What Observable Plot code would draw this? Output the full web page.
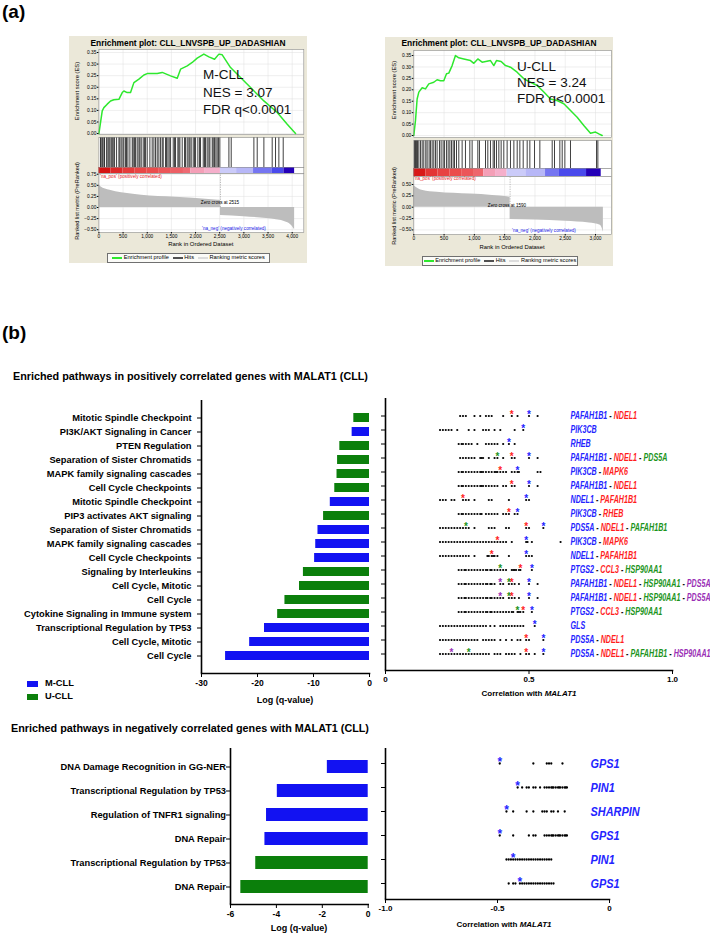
<!DOCTYPE html>
<html>
<head>
<meta charset="utf-8">
<script src="https://cdn.jsdelivr.net/npm/d3@7"></script>
<script src="https://cdn.jsdelivr.net/npm/@observablehq/plot@0.6"></script>
<style>
html,body{margin:0;padding:0;background:#fff;}
#fig{position:relative;width:710px;height:935px;overflow:hidden;background:#fff;font-family:"Liberation Sans",Arial,Helvetica,sans-serif;color:#000;}
.abs{position:absolute;}
.t{position:absolute;white-space:nowrap;line-height:1;}
.box{position:absolute;background:#ebe8d9;}
.lg{position:absolute;border:0.8px solid #707070;background:#fbfbf8;font-size:5.6px;line-height:1;display:flex;align-items:center;justify-content:center;box-sizing:border-box;white-space:nowrap;}
.sw{display:inline-block;width:10px;height:1.6px;margin:0 1.5px 0 4px;vertical-align:middle;}
</style>
</head>
<body>
<div id="fig"></div>
<script>
// ---------------- Panel (a): GSEA, M-CLL ----------------
const mTitle = "Enrichment plot: CLL_LNVSPB_UP_DADASHIAN";
const mStats = ["M-CLL", "NES = 3.07", "FDR q<0.0001"];
const mEsRank = [0, 69, 103, 172, 241, 310, 414, 483, 517, 586, 655, 724, 828, 931, 1000, 1207, 1310, 1483, 1621, 1690, 1828, 1931, 2034, 2172, 2276, 2393, 2483, 2552, 2724, 2931, 3138, 3414, 3690, 3897, 4069];
const mEsScore = [0, 0.098, 0.112, 0.127, 0.141, 0.146, 0.148, 0.177, 0.184, 0.177, 0.177, 0.22, 0.235, 0.253, 0.259, 0.259, 0.264, 0.249, 0.239, 0.278, 0.292, 0.307, 0.326, 0.343, 0.331, 0.321, 0.343, 0.34, 0.285, 0.242, 0.199, 0.141, 0.091, 0.04, 0.0];
const mHits = [34, 48, 76, 103, 117, 159, 186, 207, 228, 255, 276, 297, 324, 366, 414, 434, 462, 497, 517, 552, 572, 600, 641, 690, 710, 738, 759, 793, 828, 848, 876, 917, 945, 966, 1000, 1055, 1103, 1138, 1172, 1207, 1241, 1276, 1310, 1331, 1379, 1400, 1428, 1455, 1483, 1538, 1566, 1586, 1634, 1655, 1676, 1724, 1772, 1793, 1828, 1862, 1883, 1910, 1952, 1979, 2000, 2048, 2083, 2103, 2159, 2186, 2207, 2241, 2276, 2297, 2345, 2366, 2393, 2421, 2448, 2476, 2503, 2690, 2738, 3207, 3276, 3414, 3586, 3655, 3724, 3814];
const mBarEdges = [0, 250, 500, 750, 1000, 1250, 1500, 1750, 1900, 2200, 2515, 2850, 3200, 3590, 3830, 4050];
const mBarLevels = [0.5, 0.42, 0.36, 0.32, 0.3, 0.28, 0.26, 0.24, 0.14, 0.11, -0.09, -0.12, -0.22, -0.3, -0.45];
const mMetPosRank = [0, 40, 230, 710, 1400, 1950, 2470, 2515];
const mMetPosVal = [0.52, 0.47, 0.39, 0.30, 0.24, 0.21, 0.165, 0.16];
const mMetNegRank = [2515, 3000, 3470, 3880, 4000, 4050];
const mMetNegVal = [-0.18, -0.21, -0.25, -0.33, -0.42, -0.5];
const mZeroCross = 2515;
const mXTicks = [0, 500, 1000, 1500, 2000, 2500, 3000, 3500, 4000];
const mMetricTicks = [-0.5, -0.25, 0, 0.25, 0.5, 0.75];

// ---------------- Panel (a): GSEA, U-CLL ----------------
const uTitle = "Enrichment plot: CLL_LNVSPB_UP_DADASHIAN";
const uStats = ["U-CLL", "NES = 3.24", "FDR q<0.0001"];
const uEsRank = [0, 28, 55, 83, 138, 193, 248, 330, 385, 440, 495, 540, 578, 633, 688, 743, 826, 936, 991, 1057, 1128, 1266, 1321, 1365, 1442, 1514, 1596, 1706, 1817, 1927, 2037, 2147, 2257, 2367, 2477, 2587, 2697, 2807, 2917, 3000, 3055, 3110];
const uEsScore = [0, 0.066, 0.16, 0.19, 0.209, 0.204, 0.226, 0.233, 0.244, 0.24, 0.24, 0.27, 0.273, 0.306, 0.35, 0.34, 0.335, 0.328, 0.316, 0.335, 0.321, 0.328, 0.306, 0.328, 0.324, 0.306, 0.299, 0.277, 0.248, 0.233, 0.219, 0.19, 0.16, 0.153, 0.139, 0.109, 0.08, 0.044, 0.01, 0.015, 0.007, 0];
const uHits = [11, 28, 44, 61, 83, 110, 138, 165, 198, 220, 253, 275, 303, 330, 358, 385, 424, 451, 484, 506, 539, 567, 595, 622, 650, 672, 705, 743, 798, 853, 925, 963, 1057, 1084, 1184, 1222, 1266, 1310, 1332, 1365, 1404, 1442, 1486, 1541, 1596, 1652, 1707, 1751, 1806, 1872, 1916, 1993, 2081, 2285, 2323, 2411, 2450, 2494, 2587, 3017, 3039];
const uBarEdges = [0, 200, 400, 600, 800, 1000, 1156, 1350, 1541, 1850, 2175, 2395, 2852, 3094];
const uBarLevels = [0.48, 0.38, 0.33, 0.3, 0.28, 0.25, 0.14, 0.11, -0.09, -0.12, -0.22, -0.3, -0.45];
const uMetPosRank = [0, 60, 150, 385, 936, 1300, 1541, 1590];
const uMetPosVal = [0.48, 0.42, 0.37, 0.33, 0.29, 0.26, 0.23, 0.22];
const uMetNegRank = [1590, 2000, 2500, 2900, 3080, 3130];
const uMetNegVal = [-0.27, -0.28, -0.31, -0.35, -0.40, -0.55];
const uZeroCross = 1590;
const uXTicks = [0, 500, 1000, 1500, 2000, 2500, 3000];
const uMetricTicks = [-0.5, -0.25, 0, 0.25, 0.5];

const esTicks = [0, 0.05, 0.10, 0.15, 0.20, 0.25, 0.30, 0.35];
const gseaLegend = ["Enrichment profile", "Hits", "Ranking metric scores"];

// ---------------- Panel (b): positively correlated ----------------
const groupNames = ["M-CLL", "U-CLL"];
const posTitle = "Enriched pathways in positively correlated genes with MALAT1 (CLL)";
const posPathways = ["Mitotic Spindle Checkpoint", "PI3K/AKT Signaling in Cancer", "PTEN Regulation", "Separation of Sister Chromatids", "MAPK family signaling cascades", "Cell Cycle Checkpoints", "Mitotic Spindle Checkpoint", "PIP3 activates AKT signaling", "Separation of Sister Chromatids", "MAPK family signaling cascades", "Cell Cycle Checkpoints", "Signaling by Interleukins", "Cell Cycle, Mitotic", "Cell Cycle", "Cytokine Signaling in Immune system", "Transcriptional Regulation by TP53", "Cell Cycle, Mitotic", "Cell Cycle"];
const posGroups = ["U-CLL", "M-CLL", "U-CLL", "U-CLL", "U-CLL", "U-CLL", "M-CLL", "U-CLL", "M-CLL", "M-CLL", "M-CLL", "U-CLL", "U-CLL", "U-CLL", "U-CLL", "M-CLL", "M-CLL", "M-CLL"];
const posLogQ = [-2.8, -3.1, -5.3, -5.7, -5.8, -6.2, -7.0, -8.2, -9.2, -9.6, -9.8, -11.8, -12.5, -15.1, -16.4, -18.75, -21.4, -25.7];
const posGenes = [
  ["PAFAH1B1", "NDEL1"], ["PIK3CB"], ["RHEB"], ["PAFAH1B1", "NDEL1", "PDS5A"], ["PIK3CB", "MAPK6"],
  ["PAFAH1B1", "NDEL1"], ["NDEL1", "PAFAH1B1"], ["PIK3CB", "RHEB"], ["PDS5A", "NDEL1", "PAFAH1B1"],
  ["PIK3CB", "MAPK6"], ["NDEL1", "PAFAH1B1"], ["PTGS2", "CCL3", "HSP90AA1"],
  ["PAFAH1B1", "NDEL1", "HSP90AA1", "PDS5A"], ["PAFAH1B1", "NDEL1", "HSP90AA1", "PDS5A"],
  ["PTGS2", "CCL3", "HSP90AA1"], ["GLS"], ["PDS5A", "NDEL1"], ["PDS5A", "NDEL1", "PAFAH1B1", "HSP90AA1"]];
// starred genes: [correlation, index of gene in the row's gene list]
const posStars = [
  [[0.44, 1], [0.50, 0]], [[0.48, 0]], [[0.43, 0]], [[0.39, 2], [0.44, 1], [0.50, 0]], [[0.40, 1], [0.46, 0]],
  [[0.44, 1], [0.50, 0]], [[0.27, 1], [0.49, 0]], [[0.43, 1], [0.46, 0]], [[0.28, 2], [0.49, 1], [0.55, 0]],
  [[0.39, 1], [0.49, 0]], [[0.37, 1], [0.49, 0]], [[0.40, 2], [0.47, 1], [0.51, 0]],
  [[0.40, 3], [0.43, 2], [0.44, 1], [0.50, 0]], [[0.40, 3], [0.43, 2], [0.44, 1], [0.50, 0]],
  [[0.46, 2], [0.48, 1], [0.51, 0]], [[0.52, 0]], [[0.49, 1], [0.55, 0]], [[0.23, 3], [0.29, 2], [0.49, 1], [0.55, 0]]];
const posDots = [
  [0.26, 0.27, 0.28, 0.31, 0.33, 0.35, 0.36, 0.37, 0.41, 0.44, 0.46, 0.50, 0.53],
  [0.19, 0.20, 0.21, 0.22, 0.23, 0.25, 0.29, 0.31, 0.34, 0.35, 0.36, 0.38, 0.40, 0.45, 0.48],
  [0.255, 0.265, 0.27, 0.28, 0.29, 0.30, 0.32, 0.35, 0.36, 0.37, 0.38, 0.39, 0.41, 0.43, 0.45],
  [0.26, 0.27, 0.28, 0.29, 0.30, 0.31, 0.33, 0.335, 0.34, 0.36, 0.38, 0.39, 0.41, 0.44, 0.45, 0.50, 0.53],
  [0.255, 0.265, 0.27, 0.28, 0.29, 0.30, 0.31, 0.32, 0.33, 0.335, 0.34, 0.35, 0.36, 0.37, 0.38, 0.385, 0.39, 0.40, 0.41, 0.42, 0.44, 0.45, 0.46, 0.465, 0.53, 0.54],
  [0.255, 0.265, 0.27, 0.28, 0.29, 0.30, 0.31, 0.32, 0.33, 0.335, 0.34, 0.35, 0.36, 0.37, 0.38, 0.39, 0.41, 0.42, 0.44, 0.45, 0.50, 0.53],
  [0.19, 0.20, 0.21, 0.23, 0.24, 0.27, 0.28, 0.29, 0.31, 0.36, 0.37, 0.43, 0.49, 0.50],
  [0.255, 0.265, 0.27, 0.28, 0.29, 0.30, 0.31, 0.32, 0.33, 0.335, 0.35, 0.36, 0.37, 0.38, 0.39, 0.41, 0.42, 0.43, 0.45, 0.46],
  [0.19, 0.20, 0.21, 0.22, 0.23, 0.24, 0.25, 0.26, 0.27, 0.28, 0.29, 0.31, 0.36, 0.37, 0.38, 0.42, 0.43, 0.49, 0.50, 0.55],
  [0.19, 0.20, 0.21, 0.22, 0.23, 0.24, 0.25, 0.26, 0.27, 0.28, 0.29, 0.30, 0.31, 0.32, 0.33, 0.34, 0.35, 0.36, 0.37, 0.38, 0.39, 0.40, 0.41, 0.42, 0.44, 0.49, 0.495, 0.51, 0.61],
  [0.19, 0.20, 0.21, 0.22, 0.23, 0.24, 0.25, 0.26, 0.27, 0.28, 0.29, 0.31, 0.355, 0.36, 0.37, 0.375, 0.38, 0.39, 0.43, 0.49, 0.50, 0.51],
  [0.255, 0.265, 0.275, 0.28, 0.29, 0.30, 0.31, 0.32, 0.33, 0.34, 0.35, 0.355, 0.365, 0.37, 0.38, 0.39, 0.40, 0.41, 0.42, 0.44, 0.445, 0.45, 0.455, 0.465, 0.47, 0.51],
  [0.255, 0.265, 0.275, 0.28, 0.29, 0.30, 0.31, 0.32, 0.33, 0.34, 0.35, 0.355, 0.365, 0.37, 0.38, 0.40, 0.41, 0.43, 0.44, 0.45, 0.465, 0.50, 0.53],
  [0.255, 0.265, 0.275, 0.28, 0.29, 0.30, 0.31, 0.32, 0.33, 0.34, 0.35, 0.355, 0.365, 0.37, 0.38, 0.39, 0.40, 0.41, 0.43, 0.44, 0.45, 0.465, 0.50, 0.53],
  [0.255, 0.265, 0.275, 0.28, 0.29, 0.30, 0.31, 0.32, 0.33, 0.34, 0.35, 0.355, 0.365, 0.37, 0.38, 0.39, 0.40, 0.41, 0.42, 0.43, 0.44, 0.445, 0.46, 0.465, 0.47, 0.48, 0.51],
  [0.19, 0.20, 0.21, 0.22, 0.23, 0.24, 0.25, 0.26, 0.27, 0.28, 0.29, 0.30, 0.31, 0.32, 0.33, 0.34, 0.35, 0.365, 0.38, 0.40, 0.41, 0.42, 0.43, 0.44, 0.45, 0.46, 0.47, 0.48, 0.52],
  [0.19, 0.20, 0.21, 0.22, 0.23, 0.24, 0.25, 0.26, 0.27, 0.28, 0.29, 0.30, 0.31, 0.32, 0.34, 0.35, 0.36, 0.37, 0.38, 0.40, 0.42, 0.44, 0.46, 0.47, 0.49, 0.50, 0.55],
  [0.19, 0.20, 0.21, 0.22, 0.23, 0.24, 0.25, 0.26, 0.27, 0.28, 0.29, 0.30, 0.31, 0.32, 0.33, 0.34, 0.35, 0.36, 0.38, 0.39, 0.40, 0.42, 0.43, 0.44, 0.45, 0.47, 0.49, 0.50, 0.52, 0.55]];
const posLogQTicks = [-30, -20, -10, 0];
const posCorrTicks = [0, 0.5, 1.0];

// ---------------- Panel (b): negatively correlated ----------------
const negTitle = "Enriched pathways in negatively correlated genes with MALAT1 (CLL)";
const negPathways = ["DNA Damage Recognition in GG-NER", "Transcriptional Regulation by TP53", "Regulation of TNFR1 signaling", "DNA Repair", "Transcriptional Regulation by TP53", "DNA Repair"];
const negGroups = ["M-CLL", "M-CLL", "M-CLL", "M-CLL", "U-CLL", "U-CLL"];
const negLogQ = [-1.78, -3.96, -4.43, -4.5, -4.9, -5.55];
const negGenes = ["GPS1", "PIN1", "SHARPIN", "GPS1", "PIN1", "GPS1"];
const negStars = [-0.49, -0.41, -0.46, -0.49, -0.43, -0.40];
const negDots = [
  [-0.49, -0.34, -0.28, -0.27, -0.26, -0.21],
  [-0.41, -0.39, -0.37, -0.36, -0.34, -0.33, -0.31, -0.29, -0.28, -0.27, -0.26, -0.255, -0.25, -0.24, -0.23, -0.225, -0.22, -0.21, -0.20, -0.195, -0.19],
  [-0.46, -0.43, -0.37, -0.34, -0.30, -0.29, -0.28, -0.26, -0.25, -0.23, -0.20],
  [-0.49, -0.43, -0.36, -0.34, -0.33, -0.29, -0.28, -0.27, -0.26, -0.255, -0.25, -0.24, -0.23, -0.225, -0.22, -0.21, -0.20, -0.195, -0.19],
  [-0.46, -0.45, -0.44, -0.43, -0.42, -0.41, -0.40, -0.39, -0.38, -0.37, -0.36, -0.35, -0.34, -0.33, -0.32, -0.31, -0.30, -0.29, -0.28, -0.27, -0.26],
  [-0.45, -0.43, -0.42, -0.40, -0.39, -0.38, -0.37, -0.36, -0.35, -0.34, -0.33, -0.32, -0.31, -0.30, -0.29, -0.28, -0.27, -0.26, -0.25]];
const negLogQTicks = [-6, -4, -2, 0];
const negCorrTicks = [-1.0, -0.5, 0];

// ---------------- styling ----------------
const BLUE = "#1212f2", GREEN = "#0b7f0b";
const GENE_COLORS = ["#2424ff", "#ff1e1e", "#1c941c", "#9a2fb5"];
const ES_GREEN = "#2ee82e";
const SANS = "'Liberation Sans', Arial, Helvetica, sans-serif";
const baseStyle = {overflow: "visible", background: "transparent", color: "#000", fontFamily: SANS};
const barColor = {type: "linear", domain: [-0.45, -0.3, -0.2, -0.08, 0.1, 0.2, 0.3, 0.5],
  range: ["#2400b8", "#4a4aec", "#8080f2", "#d2d2fa", "#f6b4d2", "#f07f8e", "#eb4c4c", "#d61212"]};

const fig = document.getElementById("fig");
function place(node, left, top) {
  const w = document.createElement("div");
  w.className = "abs";
  w.style.left = left + "px"; w.style.top = top + "px";
  w.appendChild(node); fig.appendChild(w); return w;
}
function put(html, x, y, css = {}, anchor = "start", rotate = null) {
  const d = document.createElement("div");
  d.className = "t";
  d.innerHTML = html;
  Object.assign(d.style, css);
  d.style.left = x + "px"; d.style.top = y + "px";
  const tx = anchor === "middle" ? "-50%" : anchor === "end" ? "-100%" : "0";
  d.style.transform = `translate(${tx}, -50%)` + (rotate ? ` rotate(${rotate})` : "");
  fig.appendChild(d); return d;
}

// ---------------- GSEA builder ----------------
function gsea(c) {
  const W = c.box.w, ml = c.plotL - c.box.l, mr = c.box.l + c.box.w - c.plotR;
  const bx = document.createElement("div");
  bx.className = "box";
  Object.assign(bx.style, {left: c.box.l + "px", top: c.box.t + "px", width: W + "px", height: c.box.h + "px"});
  fig.appendChild(bx);
  put(c.title, c.box.l + W / 2, c.titleY, {fontSize: "8.4px", fontWeight: "bold"}, "middle");
  const xs = {domain: [0, c.xMax]};
  const common = {width: W, marginLeft: ml, marginRight: mr, marginTop: 0, style: baseStyle};
  const frameLine = () => Plot.frame({stroke: "#8a8a8a", strokeWidth: 0.6});
  const grid = {stroke: "#dedede", strokeOpacity: 1, strokeWidth: 0.5};

  const esData = c.esRank.map((r, i) => ({rank: r, es: c.esScore[i]}));
  const es = Plot.plot({...common, height: c.esBox.b - c.esBox.t, marginBottom: 0,
    x: {...xs, axis: null}, y: {domain: [c.esBox.lo, c.esBox.hi]},
    marks: [
      Plot.frame({fill: "white", stroke: null}),
      Plot.gridX(c.xTicks, grid), Plot.gridY(esTicks, grid),
      Plot.line(esData, {x: "rank", y: "es", stroke: ES_GREEN, strokeWidth: 1.5}),
      frameLine(),
      Plot.axisY(esTicks, {label: null, tickSize: 1.5, tickPadding: 1, fontSize: 4.8, tickFormat: d3.format(".2f")})
    ]});
  place(es, c.box.l, c.esBox.t);

  const hits = Plot.plot({...common, height: c.hitsBox.b - c.hitsBox.t, marginBottom: 0,
    x: {...xs, axis: null},
    marks: [Plot.frame({fill: "white", stroke: null}), Plot.ruleX(c.hits, {stroke: "#000", strokeWidth: 0.75}), frameLine()]});
  place(hits, c.box.l, c.hitsBox.t);

  const blocks = c.barLevels.map((lv, i) => ({x1: c.barEdges[i], x2: c.barEdges[i + 1], level: lv}));
  const bar = Plot.plot({...common, height: c.barBox.b - c.barBox.t, marginBottom: 0,
    x: {...xs, axis: null}, color: barColor,
    marks: [Plot.frame({fill: "white", stroke: null}), Plot.rect(blocks, {x1: "x1", x2: "x2", fill: "level"}), frameLine()]});
  place(bar, c.box.l, c.barBox.t);

  const pos = c.mpRank.map((r, i) => ({rank: r, v: c.mpVal[i]}));
  const neg = c.mnRank.map((r, i) => ({rank: r, v: c.mnVal[i]}));
  const met = Plot.plot({...common, height: c.metBox.b - c.metBox.t + 12, marginBottom: 12,
    x: xs, y: {domain: [c.metBox.lo, c.metBox.hi]},
    marks: [
      Plot.frame({fill: "white", stroke: null}),
      Plot.gridX(c.xTicks, grid), Plot.gridY(c.metricTicks, grid),
      Plot.areaY(pos, {x: "rank", y: "v", fill: "#bdbdbd", curve: "monotone-x"}),
      Plot.areaY(neg, {x: "rank", y: "v", fill: "#bdbdbd", curve: "monotone-x"}),
      Plot.ruleX([c.zero], {y1: 0, y2: c.metBox.hi, stroke: "#8c8c8c", strokeWidth: 0.6, strokeDasharray: "1.2,1.2"}),
      frameLine(),
      Plot.axisY(c.metricTicks, {label: null, tickSize: 1.5, tickPadding: 1, fontSize: 4.8, tickFormat: d3.format(".2f")}),
      Plot.axisX(c.xTicks, {label: null, tickSize: 1.5, tickPadding: 1, fontSize: 4.8, tickFormat: d3.format(",")})
    ]});
  place(met, c.box.l, c.metBox.t);

  put("Enrichment score (ES)", c.yLabX, c.esLabY, {fontSize: "5.8px"}, "middle", "-90deg");
  put("Ranked list metric (PreRanked)", c.yLabX, c.metLabY, {fontSize: "5.6px"}, "middle", "-90deg");
  put("Rank in Ordered Dataset", (c.plotL + c.plotR) / 2, c.xLabY, {fontSize: "5.9px"}, "middle");
  put("'na_pos' (positively correlated)", c.naPos[0], c.naPos[1], {fontSize: "4.6px", color: "#e82020"});
  put("'na_neg' (negatively correlated)", c.naNeg[0], c.naNeg[1], {fontSize: "4.6px", color: "#2020e8"});
  put(`Zero cross at ${c.zero}`, c.zeroLab[0], c.zeroLab[1], {fontSize: "4.6px"}, "middle");
  c.stats.forEach((s, i) => put(s, c.statX, c.statY[i], {fontSize: "13.5px", color: "#111"}));
  const lg = document.createElement("div");
  lg.className = "lg";
  Object.assign(lg.style, {left: c.legend[0] + "px", top: c.legend[1] + "px", width: c.legend[2] + "px", height: c.legend[3] + "px"});
  const sw = [ES_GREEN, "#505050", "#dcdcdc"];
  lg.innerHTML = gseaLegend.map((t, i) => `<span class="sw" style="background:${sw[i]};${i === 0 ? "margin-left:0" : ""}"></span>${t}`).join("");
  fig.appendChild(lg);
}

gsea({title: mTitle, stats: mStats, esRank: mEsRank, esScore: mEsScore, hits: mHits, barEdges: mBarEdges, barLevels: mBarLevels,
  mpRank: mMetPosRank, mpVal: mMetPosVal, mnRank: mMetNegRank, mnVal: mMetNegVal, zero: mZeroCross, xTicks: mXTicks, metricTicks: mMetricTicks,
  box: {l: 69, t: 36, w: 238, h: 227}, plotL: 98.4, plotR: 303.3, xMax: 4240, titleY: 43,
  esBox: {t: 49, b: 134, lo: -0.004, hi: 0.363}, hitsBox: {t: 137, b: 167}, barBox: {t: 167, b: 173}, metBox: {t: 173, b: 232, lo: -0.563, hi: 0.766},
  yLabX: 78, esLabY: 91, metLabY: 201, xLabY: 245, naPos: [100, 177], naNeg: [202, 229], zeroLab: [220, 203],
  statX: 203, statY: [75, 93, 110], legend: [107, 253, 163, 9.5]});

gsea({title: uTitle, stats: uStats, esRank: uEsRank, esScore: uEsScore, hits: uHits, barEdges: uBarEdges, barLevels: uBarLevels,
  mpRank: uMetPosRank, mpVal: uMetPosVal, mnRank: uMetNegRank, mnVal: uMetNegVal, zero: uZeroCross, xTicks: uXTicks, metricTicks: uMetricTicks,
  box: {l: 385, t: 37, w: 228, h: 229}, plotL: 413.3, plotR: 611, xMax: 3264, titleY: 43,
  esBox: {t: 50, b: 137, lo: -0.0087, hi: 0.372}, hitsBox: {t: 140, b: 168}, barBox: {t: 168, b: 176}, metBox: {t: 176, b: 234, lo: -0.601, hi: 0.676},
  yLabX: 395, esLabY: 90, metLabY: 206, xLabY: 248, naPos: [414, 179], naNeg: [512, 231], zeroLab: [507, 206],
  statX: 517, statY: [67, 82.5, 99], legend: [422, 256, 156, 10]});

put("(a)", 2, 11, {fontSize: "19px", fontWeight: "bold"});
put("(b)", 2, 332, {fontSize: "19px", fontWeight: "bold"});

// ---------------- Panel (b) builders ----------------
function barChart(rows, labels, ticks, o) {
  return Plot.plot({
    width: o.width, height: o.height, marginLeft: o.ml, marginRight: o.mr, marginTop: o.mt, marginBottom: o.mb, style: baseStyle,
    x: {domain: [ticks[0], ticks[ticks.length - 1]]},
    y: {type: "band", domain: rows.map(d => d.i), padding: o.padding},
    color: {domain: groupNames, range: [BLUE, GREEN]},
    marks: [
      Plot.barX(rows, {x: "v", y: "i", fill: "group"}),
      Plot.axisY({label: null, tickSize: 4, tickPadding: o.tickPad, tickFormat: i => labels[i], fontSize: 9.3, fontWeight: "bold"}),
      Plot.axisX(ticks, {label: null, tickSize: 4, tickPadding: 2, fontSize: 8.5, fontWeight: "bold", tickFormat: d => String(d)}),
      Plot.ruleX([ticks[0]], {stroke: "#000", strokeWidth: 1.6}),
      Plot.frame({anchor: "bottom", stroke: "#000", strokeWidth: 1.6})
    ]
  });
}
// colour each gene of a label separately; returns the label text nodes
function colorLabels(svg, map, colors) {
  const out = [];
  svg.querySelectorAll("text").forEach(t => {
    const genes = map.get(t.textContent);
    if (!genes) return;
    t.textContent = "";
    genes.forEach((g, j) => {
      if (j > 0) {
        const s = document.createElementNS("http://www.w3.org/2000/svg", "tspan");
        s.setAttribute("fill", "#111"); s.textContent = " - "; t.appendChild(s);
      }
      const s = document.createElementNS("http://www.w3.org/2000/svg", "tspan");
      s.setAttribute("fill", colors[j]); s.textContent = g; t.appendChild(s);
    });
    out.push(t);
  });
  return out;
}
// the reference labels are set in a narrow face: squeeze them horizontally about their start point
function condense(nodes, ratio) {
  nodes.forEach(t => {
    const x0 = t.getBBox().x;
    const prev = t.getAttribute("transform") || "";
    t.setAttribute("transform", `${prev} translate(${x0},0) scale(${ratio},1) translate(${-x0},0)`.trim());
  });
}

// top bar chart
const posRows = posPathways.map((p, i) => ({i, group: posGroups[i], v: posLogQ[i]}));
place(barChart(posRows, posPathways, posLogQTicks, {width: 380, height: 313, ml: 201, mr: 11, mt: 20, mb: 20, padding: 0.36, tickPad: 6}), 0, 380);

// top dot plot
const posDotData = posDots.flatMap((row, i) => row.map(v => ({i, v})));
const posStarData = posStars.flatMap((row, i) => row.map(([v, k]) => ({i, v, k})));
const posLabelMap = new Map(posGenes.map(g => [g.join(" - "), g]));
const topDot = Plot.plot({
  width: 330, height: 310, marginLeft: 5, marginRight: 38, marginTop: 18, marginBottom: 20, style: baseStyle,
  x: {domain: [posCorrTicks[0], posCorrTicks[posCorrTicks.length - 1]]},
  y: {type: "band", domain: posRows.map(d => d.i), padding: 0.36},
  color: {type: "ordinal", domain: [0, 1, 2, 3], range: GENE_COLORS},
  marks: [
    Plot.dot(posDotData, {x: "v", y: "i", r: 1.1, fill: "#000", stroke: null}),
    Plot.text(posStarData, {x: "v", y: "i", text: () => "*", fill: "k", fontSize: 10, fontWeight: "bold", dy: -1}),
    Plot.text(posRows, {y: "i", text: d => posGenes[d.i].join(" - "), frameAnchor: "left", dx: 185, textAnchor: "start",
      fontSize: 10, fontWeight: "bold", fontStyle: "italic"}),
    Plot.axisY({label: null, tickSize: 4, tickFormat: () => ""}),
    Plot.axisX(posCorrTicks, {label: null, tickSize: 4, tickPadding: 2, fontSize: 8, fontWeight: "bold", tickFormat: d => d === 0 ? "0" : d.toFixed(1)}),
    Plot.ruleX([posCorrTicks[0]], {stroke: "#000", strokeWidth: 1.6}),
    Plot.frame({anchor: "bottom", stroke: "#000", strokeWidth: 1.6})
  ]
});
const topLabels = colorLabels(topDot, posLabelMap, GENE_COLORS);
place(topDot, 380, 380);
condense(topLabels, 0.715);

// bottom bar chart
const negRows = negPathways.map((p, i) => ({i, group: negGroups[i], v: negLogQ[i]}));
place(barChart(negRows, negPathways, negLogQTicks, {width: 380, height: 191, ml: 230, mr: 12.3, mt: 13, mb: 22, padding: 0.46, tickPad: 0.5}), 0, 735);

// bottom dot plot
const negDotData = negDots.flatMap((row, i) => row.map(v => ({i, v})));
const negStarData = negStars.map((v, i) => ({i, v}));
const botDot = Plot.plot({
  width: 330, height: 189, marginLeft: 5, marginRight: 101, marginTop: 13, marginBottom: 25, style: baseStyle,
  x: {domain: [negCorrTicks[0], negCorrTicks[negCorrTicks.length - 1]]},
  y: {type: "band", domain: negRows.map(d => d.i), padding: 0.24},
  marks: [
    Plot.dot(negDotData, {x: "v", y: "i", r: 1.15, fill: "#000", stroke: null}),
    Plot.text(negStarData, {x: "v", y: "i", text: () => "*", fill: GENE_COLORS[0], fontSize: 12, fontWeight: "bold", dy: -1.5}),
    Plot.text(negRows, {y: "i", text: d => negGenes[d.i], frameAnchor: "left", dx: 205, textAnchor: "start", fill: GENE_COLORS[0],
      fontSize: 13, fontWeight: "bold", fontStyle: "italic"}),
    Plot.axisY({label: null, tickSize: 4, tickFormat: () => ""}),
    Plot.axisX(negCorrTicks, {label: null, tickSize: 4, tickPadding: 2, fontSize: 8, fontWeight: "bold", tickFormat: d => d === 0 ? "0" : d.toFixed(1)}),
    Plot.ruleX([negCorrTicks[0]], {stroke: "#000", strokeWidth: 1.6}),
    Plot.frame({anchor: "bottom", stroke: "#000", strokeWidth: 1.6})
  ]
});
place(botDot, 380, 735);
condense([...botDot.querySelectorAll("text")].filter(t => negGenes.includes(t.textContent)), 0.84);

// titles, axis labels and legend
put(posTitle, 13, 376, {fontSize: "10.8px", fontWeight: "bold"});
put(negTitle, 11, 728, {fontSize: "10.8px", fontWeight: "bold"});
put("Log (q-value)", 285, 700, {fontSize: "9px", fontWeight: "bold"}, "middle");
put("Correlation with <i>MALAT1</i>", 529, 694, {fontSize: "8px", fontWeight: "bold"}, "middle");
put("Log (q-value)", 299, 928, {fontSize: "9px", fontWeight: "bold"}, "middle");
put("Correlation with <i>MALAT1</i>", 504, 925, {fontSize: "8px", fontWeight: "bold"}, "middle");
[[BLUE, 683.5], [GREEN, 697]].forEach(([col, y], i) => {
  const s = document.createElement("div");
  s.className = "abs";
  Object.assign(s.style, {left: "27px", top: (y - 3) + "px", width: "11px", height: "6px", background: col});
  fig.appendChild(s);
  put(groupNames[i], 45, y, {fontSize: "9.3px", fontWeight: "bold"});
});
</script>
</body>
</html>
